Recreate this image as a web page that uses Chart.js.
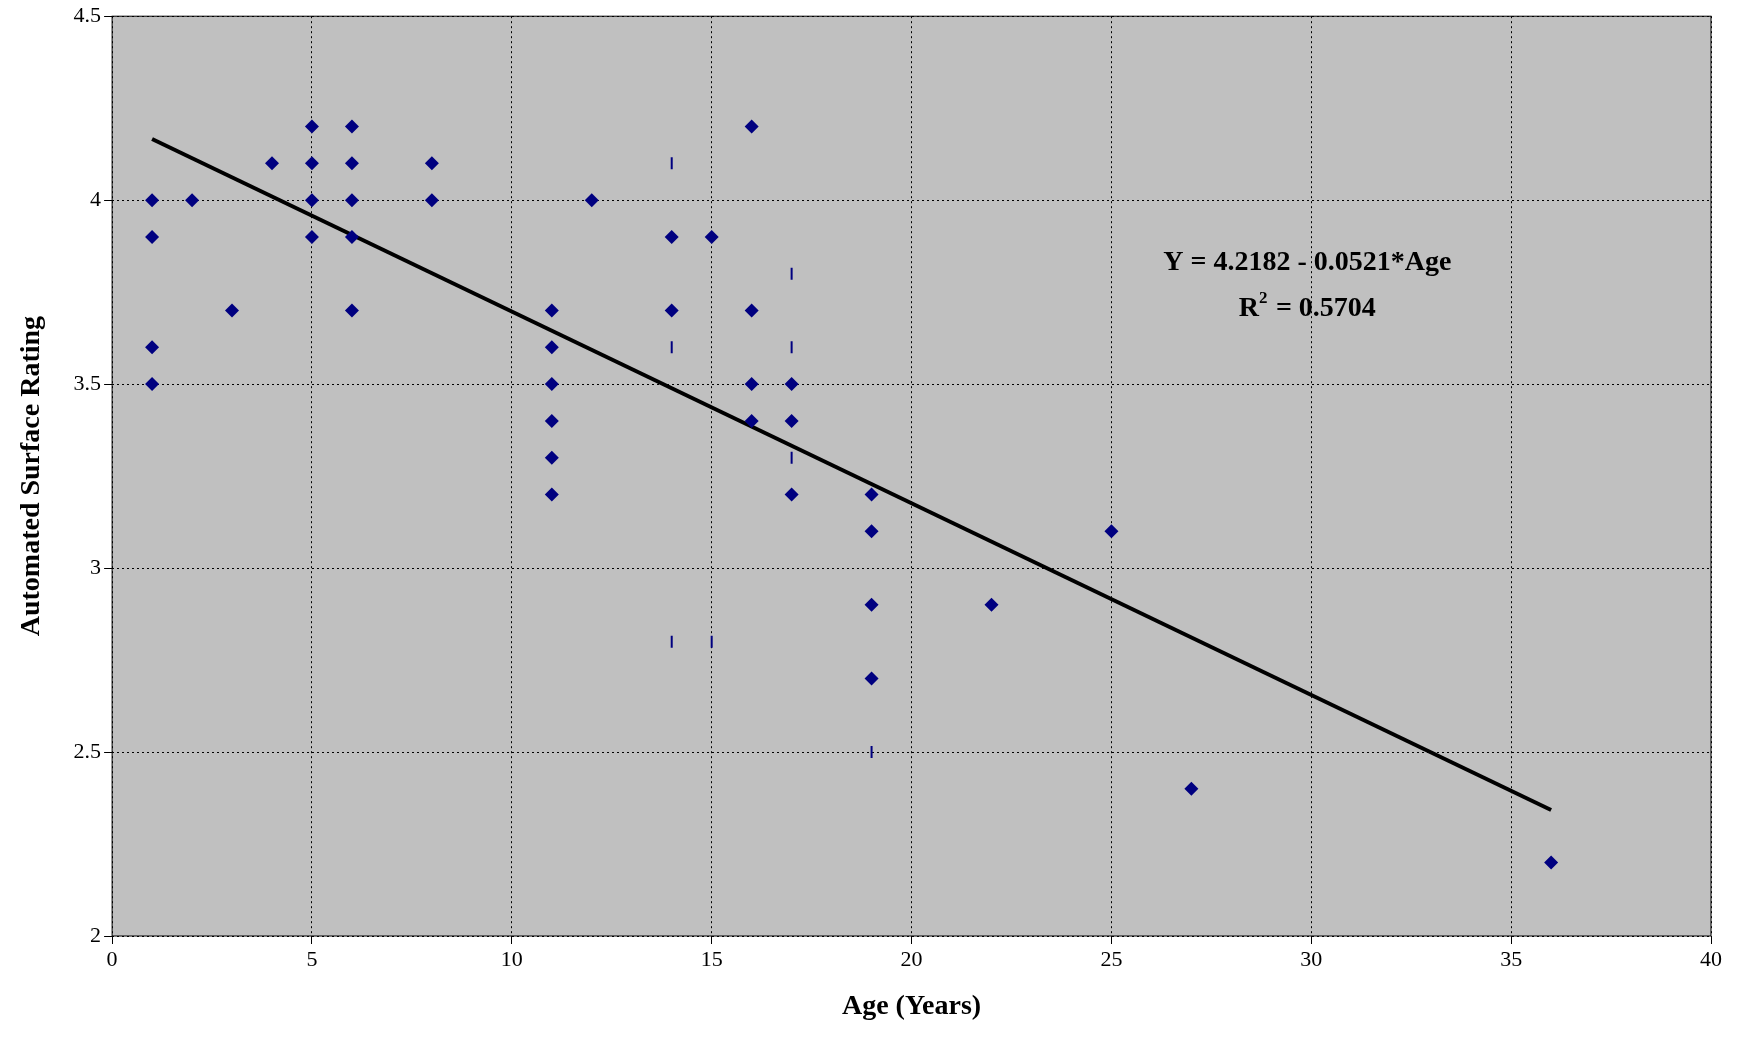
<!DOCTYPE html>
<html><head><meta charset="utf-8">
<script src="https://cdn.jsdelivr.net/npm/chart.js@4"></script>
<style>html,body{margin:0;background:#fff}#w{width:1746px;height:1046px}</style>
</head><body><div id="w"><canvas id="c"></canvas></div>
<script>
const ageX=[1,1,1,1,2,3,4,5,5,5,5,6,6,6,6,6,8,8,11,11,11,11,11,11,12,14,14,15,16,16,16,16,17,17,17,19,19,19,19,22,25,27,36];
const ratingY=[4.0,3.9,3.6,3.5,4.0,3.7,4.1,4.2,4.1,4.0,3.9,4.2,4.1,4.0,3.9,3.7,4.1,4.0,3.7,3.6,3.5,3.4,3.3,3.2,4.0,3.9,3.7,3.9,4.2,3.7,3.5,3.4,3.5,3.4,3.2,3.2,3.1,2.9,2.7,2.9,3.1,2.4,2.2];
const dashX=[14,14,17,17,17,14,15,19];
const dashY=[4.1,3.6,3.8,3.6,3.3,2.8,2.8,2.5];
const fitX=[1,36];
const intercept=4.2182, slope=-0.0521;
const xTicks=[0,5,10,15,20,25,30,35,40];
const yTicks=[2,2.5,3,3.5,4,4.5];
const bg={id:'bg',beforeDraw(c){const a=c.chartArea,x=c.ctx;x.save();x.fillStyle='#c0c0c0';x.fillRect(a.left,a.top,a.width,a.height);x.restore();},
afterDraw(c){const a=c.chartArea,x=c.ctx;x.save();x.strokeStyle='#000';x.lineWidth=1;x.strokeRect(a.left,a.top,a.width,a.height);
x.fillStyle='#000';x.font='bold 28px "Liberation Serif"';x.textAlign='center';x.textBaseline='middle';
const px=c.scales.x.getPixelForValue(29.9),py1=c.scales.y.getPixelForValue(3.83),py2=c.scales.y.getPixelForValue(3.705);
x.fillText('Y = 4.2182 - 0.0521*Age',px,py1);
x.textAlign='left';const w=x.measureText('R = 0.5704').width;const w2=x.measureText('R').width;
const sx=px-(w+10)/2;x.fillText('R',sx,py2);x.font='bold 17px "Liberation Serif"';x.fillText('2',sx+w2,py2-10);
x.font='bold 28px "Liberation Serif"';x.fillText(' = 0.5704',sx+w2+10,py2);x.restore();}};
new Chart(document.getElementById('c'),{type:'scatter',data:{datasets:[
{data:ageX.map((v,i)=>({x:v,y:ratingY[i]})),pointStyle:'rectRot',pointRadius:7,backgroundColor:'#000080',borderColor:'#000080',borderWidth:0},
{data:dashX.map((v,i)=>({x:v,y:dashY[i]})),pointStyle:'line',rotation:90,pointRadius:6,borderColor:'#000080',borderWidth:2},
{type:'line',data:fitX.map(v=>({x:v,y:intercept+slope*v})),borderColor:'#000',borderWidth:4,pointRadius:0}
]},options:{responsive:true,maintainAspectRatio:false,animation:false,
layout:{padding:{top:16,right:35,left:11,bottom:18}},
plugins:{legend:{display:false},tooltip:{enabled:false}},
scales:{x:{type:'linear',min:0,max:40,afterBuildTicks:s=>{s.ticks=xTicks.map(v=>({value:v}))},
grid:{color:'#000',tickLength:8,drawTicks:true},border:{display:false,dash:[2,3]},
ticks:{color:'#000',font:{family:'Liberation Serif',size:22}},
title:{display:true,text:'Age (Years)',color:'#000',font:{family:'Liberation Serif',size:28,weight:'bold'},padding:{top:14}}},
y:{min:2,max:4.5,afterBuildTicks:s=>{s.ticks=yTicks.map(v=>({value:v}))},
grid:{color:'#000',tickLength:8},border:{display:false,dash:[2,3]},
ticks:{color:'#000',font:{family:'Liberation Serif',size:22},callback:v=>String(v)},
title:{display:true,text:'Automated Surface Rating',color:'#000',font:{family:'Liberation Serif',size:28,weight:'bold'},padding:{bottom:22}}}}},
plugins:[bg]});
</script></body></html>
